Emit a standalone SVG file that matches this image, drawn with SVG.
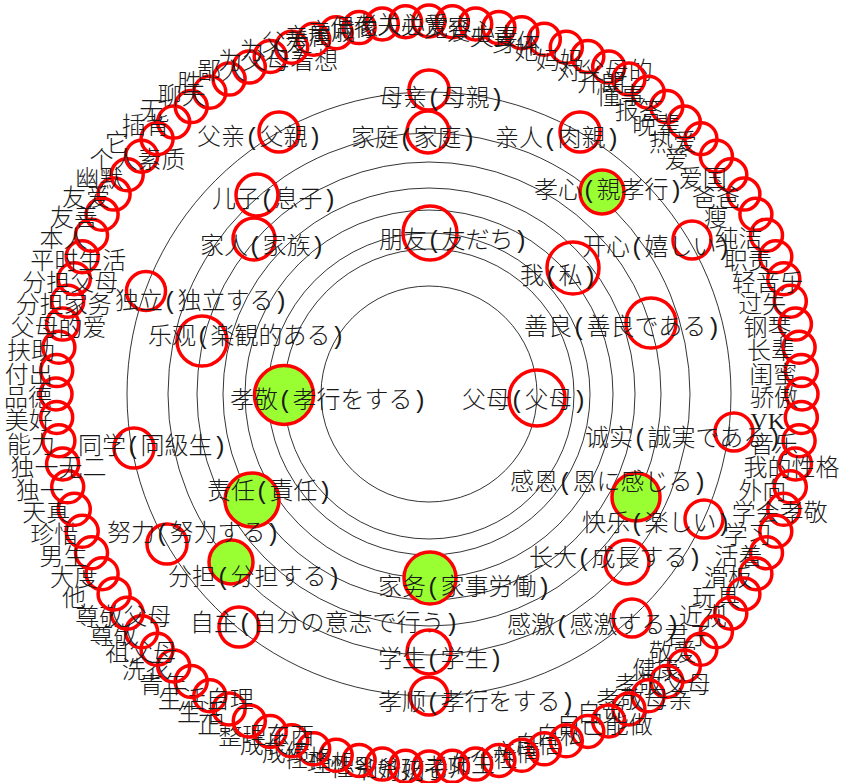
<svg xmlns="http://www.w3.org/2000/svg" width="844" height="783" viewBox="0 0 844 783">
<style>
.ring{fill:none;stroke:#000;stroke-width:0.8}
.n{fill:none;stroke:#f00;stroke-width:3.5}
.g{fill:#99ff33;stroke:#f00;stroke-width:3.5}
.t{font-family:"Liberation Mono","Noto Sans CJK SC","Noto Sans CJK JP",sans-serif;font-size:24px;font-weight:300;fill:#1a1a1a}
.v{font-family:"Liberation Serif","Noto Sans CJK SC",serif;font-size:24px;fill:#1a1a1a}
</style>
<rect width="844" height="783" fill="#fff"/>
<g id="rings">
<circle class="ring" cx="429" cy="394" r="108"/>
<circle class="ring" cx="429" cy="394" r="145"/>
<circle class="ring" cx="429" cy="394" r="161"/>
<circle class="ring" cx="429" cy="394" r="184"/>
<circle class="ring" cx="429" cy="394" r="206"/>
<circle class="ring" cx="429" cy="394" r="232"/>
<circle class="ring" cx="429" cy="394" r="261"/>
<circle class="ring" cx="429" cy="394" r="302"/>
</g>
<g id="connectors"/>
<g id="inner">
<g id="n-xiaojing"><circle class="g" cx="284" cy="395" r="29.5"/><text class="t" x="230" y="408">孝敬(孝行をする)</text></g>
<g id="n-xiaoxin"><circle class="g" cx="602" cy="192" r="22"/><text class="t" x="534" y="198">孝心(親孝行)</text></g>
<g id="n-zeren"><circle class="g" cx="252" cy="500" r="27"/><text class="t" x="207" y="499">责任(責任)</text></g>
<g id="n-ganen"><circle class="g" cx="636" cy="497" r="24"/><text class="t" x="510" y="490">感恩(恩に感じる)</text></g>
<g id="n-fendan"><circle class="g" cx="231" cy="562" r="22"/><text class="t" x="168" y="585">分担(分担する)</text></g>
<g id="n-jiawu"><circle class="g" cx="430" cy="578" r="26"/><text class="t" x="378" y="595">家务(家事労働)</text></g>
<g id="n-muqin"><circle class="n" cx="429" cy="90" r="20"/><text class="t" x="379" y="106">母亲(母親)</text></g>
<g id="n-fuqin"><circle class="n" cx="279" cy="132" r="20"/><text class="t" x="197" y="145">父亲(父親)</text></g>
<g id="n-jiating"><circle class="n" cx="428" cy="132" r="21"/><text class="t" x="351" y="146">家庭(家庭)</text></g>
<g id="n-qinren"><circle class="n" cx="580" cy="132" r="20"/><text class="t" x="495" y="146">亲人(肉親)</text></g>
<g id="n-erzi"><circle class="n" cx="257" cy="195" r="21"/><text class="t" x="212" y="207">儿子(息子)</text></g>
<g id="n-jiaren"><circle class="n" cx="254" cy="239" r="21"/><text class="t" x="200" y="254">家人(家族)</text></g>
<g id="n-pengyou"><circle class="n" cx="430" cy="233" r="27"/><text class="t" x="379" y="248">朋友(友だち)</text></g>
<g id="n-kaixin"><circle class="n" cx="692" cy="240" r="19"/><text class="t" x="582" y="255">开心(嬉しい)</text></g>
<g id="n-wo"><circle class="n" cx="573" cy="268" r="26"/><text class="t" x="520" y="284">我(私)</text></g>
<g id="n-duli"><circle class="n" cx="146" cy="291" r="19.5"/><text class="t" x="115" y="309">独立(独立する)</text></g>
<g id="n-leguan"><circle class="n" cx="202" cy="341" r="25"/><text class="t" x="148" y="344">乐观(楽観的ある)</text></g>
<g id="n-shanliang"><circle class="n" cx="651" cy="323" r="25"/><text class="t" x="524" y="335">善良(善良である)</text></g>
<g id="n-fumu"><circle class="n" cx="537" cy="398" r="28"/><text class="t" x="462" y="408">父母(父母)</text></g>
<g id="n-tongxue"><circle class="n" cx="134" cy="448" r="20"/><text class="t" x="78" y="454">同学(同級生)</text></g>
<g id="n-chengshi"><circle class="n" cx="734" cy="432" r="19"/><text class="t" x="585" y="446">诚实(誠実である)</text></g>
<g id="n-kuaile"><circle class="n" cx="704" cy="519" r="19"/><text class="t" x="582" y="531">快乐(楽しい)</text></g>
<g id="n-nuli"><circle class="n" cx="167" cy="544" r="20"/><text class="t" x="107" y="541">努力(努力する)</text></g>
<g id="n-zhangda"><circle class="n" cx="627" cy="562" r="22"/><text class="t" x="529" y="566">长大(成長する)</text></g>
<g id="n-zizhu"><circle class="n" cx="239" cy="627" r="20"/><text class="t" x="190" y="631">自主(自分の意志で行う)</text></g>
<g id="n-ganji"><circle class="n" cx="632" cy="618" r="19"/><text class="t" x="507" y="633">感激(感激する)</text></g>
<g id="n-xuesheng"><circle class="n" cx="429" cy="652" r="22"/><text class="t" x="378" y="667">学生(学生)</text></g>
<g id="n-xiaoshun"><circle class="n" cx="429" cy="696" r="19"/><text class="t" x="378" y="710">孝顺(孝行をする)</text></g>
</g>
<g id="outer">
<g id="o0"><circle class="n" cx="56.0" cy="394.0" r="16"/><text class="t" x="4.0" y="406.0">品德</text></g>
<g id="o1"><circle class="n" cx="56.7" cy="370.6" r="16"/><text class="t" x="4.7" y="382.6">付出</text></g>
<g id="o2"><circle class="n" cx="58.9" cy="347.3" r="16"/><text class="t" x="6.9" y="359.3">扶助</text></g>
<g id="o3"><circle class="n" cx="62.6" cy="324.1" r="16"/><text class="t" x="10.6" y="336.1">父母的爱</text></g>
<g id="o4"><circle class="n" cx="67.7" cy="301.2" r="16"/><text class="t" x="15.7" y="313.2">分担家务</text></g>
<g id="o5"><circle class="n" cx="74.3" cy="278.7" r="16"/><text class="t" x="22.3" y="290.7">分担父母</text></g>
<g id="o6"><circle class="n" cx="82.2" cy="256.7" r="16"/><text class="t" x="30.2" y="268.7">平时生活</text></g>
<g id="o7"><circle class="n" cx="91.5" cy="235.2" r="16"/><text class="t" x="39.5" y="247.2">本人</text></g>
<g id="o8"><circle class="n" cx="102.1" cy="214.3" r="16"/><text class="t" x="50.1" y="226.3">友善</text></g>
<g id="o9"><circle class="n" cx="114.1" cy="194.1" r="16"/><text class="t" x="62.1" y="206.1">友爱</text></g>
<g id="o10"><circle class="n" cx="127.2" cy="174.8" r="16"/><text class="t" x="75.2" y="186.8">幽默</text></g>
<g id="o11"><circle class="n" cx="141.6" cy="156.2" r="16"/><text class="t" x="89.6" y="168.2">个人素质</text></g>
<g id="o12"><circle class="n" cx="157.1" cy="138.7" r="16"/><text class="t" x="105.1" y="150.7">它</text></g>
<g id="o13"><circle class="n" cx="173.7" cy="122.1" r="16"/><text class="t" x="121.7" y="134.1">插背</text></g>
<g id="o14"><circle class="n" cx="191.2" cy="106.6" r="16"/><text class="t" x="139.2" y="118.6">无</text></g>
<g id="o15"><circle class="n" cx="209.8" cy="92.2" r="16"/><text class="t" x="157.8" y="104.2">聊天</text></g>
<g id="o16"><circle class="n" cx="229.1" cy="79.1" r="16"/><text class="t" x="177.1" y="91.1">胜</text></g>
<g id="o17"><circle class="n" cx="249.3" cy="67.1" r="16"/><text class="t" x="197.3" y="79.1">鄙人</text></g>
<g id="o18"><circle class="n" cx="270.2" cy="56.5" r="16"/><text class="t" x="218.2" y="68.5">为父母着想</text></g>
<g id="o19"><circle class="n" cx="291.7" cy="47.2" r="16"/><text class="t" x="239.7" y="59.2">为人</text></g>
<g id="o20"><circle class="n" cx="313.7" cy="39.3" r="16"/><text class="t" x="261.7" y="51.3">父爱</text></g>
<g id="o21"><circle class="n" cx="336.2" cy="32.7" r="16"/><text class="t" x="284.2" y="44.7">亲属</text></g>
<g id="o22"><circle class="n" cx="359.1" cy="27.6" r="16"/><text class="t" x="307.1" y="39.6">亲戚</text></g>
<g id="o23"><circle class="n" cx="382.3" cy="23.9" r="16"/><text class="t" x="330.3" y="35.9">偶像</text></g>
<g id="o24"><circle class="n" cx="405.6" cy="21.7" r="16"/><text class="t" x="353.6" y="33.7">老人</text></g>
<g id="o25"><circle class="n" cx="429.0" cy="21.0" r="16"/><text class="t" x="377.0" y="33.0">关心</text></g>
<g id="o26"><circle class="n" cx="452.4" cy="21.7" r="16"/><text class="t" x="400.4" y="33.7">关爱</text></g>
<g id="o27"><circle class="n" cx="475.7" cy="23.9" r="16"/><text class="t" x="423.7" y="35.9">宽容</text></g>
<g id="o28"><circle class="n" cx="498.9" cy="27.6" r="16"/><text class="t" x="446.9" y="39.6">爱心</text></g>
<g id="o29"><circle class="n" cx="521.8" cy="32.7" r="16"/><text class="t" x="469.8" y="44.7">夫妻</text></g>
<g id="o30"><circle class="n" cx="544.3" cy="39.3" r="16"/><text class="t" x="492.3" y="51.3">身体</text></g>
<g id="o31"><circle class="n" cx="566.3" cy="47.2" r="16"/><text class="t" x="514.3" y="59.2">她</text></g>
<g id="o32"><circle class="n" cx="587.8" cy="56.5" r="16"/><text class="t" x="535.8" y="68.5">妈妈</text></g>
<g id="o33"><circle class="n" cx="608.7" cy="67.1" r="16"/><text class="t" x="556.7" y="79.1">对父母的</text></g>
<g id="o34"><circle class="n" cx="628.9" cy="79.1" r="16"/><text class="t" x="576.9" y="91.1">开朗</text></g>
<g id="o35"><circle class="n" cx="648.2" cy="92.2" r="16"/><text class="t" x="596.2" y="104.2">懂事</text></g>
<g id="o36"><circle class="n" cx="666.8" cy="106.6" r="16"/><text class="t" x="614.8" y="118.6">报答</text></g>
<g id="o37"><circle class="n" cx="684.3" cy="122.1" r="16"/><text class="t" x="632.3" y="134.1">晚辈</text></g>
<g id="o38"><circle class="n" cx="700.9" cy="138.7" r="16"/><text class="t" x="648.9" y="150.7">热爱</text></g>
<g id="o39"><circle class="n" cx="716.4" cy="156.2" r="16"/><text class="t" x="664.4" y="168.2">爱</text></g>
<g id="o40"><circle class="n" cx="730.8" cy="174.8" r="16"/><text class="t" x="678.8" y="186.8">爱国</text></g>
<g id="o41"><circle class="n" cx="743.9" cy="194.1" r="16"/><text class="t" x="691.9" y="206.1">爸爸</text></g>
<g id="o42"><circle class="n" cx="755.9" cy="214.3" r="16"/><text class="t" x="703.9" y="226.3">瘦</text></g>
<g id="o43"><circle class="n" cx="766.5" cy="235.2" r="16"/><text class="t" x="714.5" y="247.2">纯洁</text></g>
<g id="o44"><circle class="n" cx="775.8" cy="256.7" r="16"/><text class="t" x="723.8" y="268.7">职责</text></g>
<g id="o45"><circle class="n" cx="783.8" cy="278.7" r="16"/><text class="t" x="731.8" y="290.7">轻音乐</text></g>
<g id="o46"><circle class="n" cx="790.3" cy="301.2" r="16"/><text class="t" x="738.3" y="313.2">过失</text></g>
<g id="o47"><circle class="n" cx="795.4" cy="324.1" r="16"/><text class="t" x="743.4" y="336.1">钢琴</text></g>
<g id="o48"><circle class="n" cx="799.1" cy="347.3" r="16"/><text class="t" x="747.1" y="359.3">长辈</text></g>
<g id="o49"><circle class="n" cx="801.3" cy="370.6" r="16"/><text class="t" x="749.3" y="382.6">闺蜜</text></g>
<g id="o50"><circle class="n" cx="802.0" cy="394.0" r="16"/><text class="t" x="750.0" y="406.0">骄傲</text></g>
<g id="o51"><circle class="n" cx="801.3" cy="417.4" r="16"/><text class="v" x="750.3" y="429.4">VK</text></g>
<g id="o52"><circle class="n" cx="799.1" cy="440.7" r="16"/><text class="t" x="750.1" y="452.7">音乐</text></g>
<g id="o53"><circle class="n" cx="795.4" cy="463.9" r="16"/><text class="t" x="743.4" y="475.9">我的性格</text></g>
<g id="o54"><circle class="n" cx="790.3" cy="486.8" r="16"/><text class="t" x="738.3" y="498.8">外向</text></g>
<g id="o55"><circle class="n" cx="783.8" cy="509.3" r="16"/><text class="t" x="731.8" y="521.3">学会孝敬</text></g>
<g id="o56"><circle class="n" cx="775.8" cy="531.3" r="16"/><text class="t" x="723.8" y="543.3">学习</text></g>
<g id="o57"><circle class="n" cx="766.5" cy="552.8" r="16"/><text class="t" x="714.5" y="564.8">活着</text></g>
<g id="o58"><circle class="n" cx="755.9" cy="573.7" r="16"/><text class="t" x="703.9" y="585.7">滑板</text></g>
<g id="o59"><circle class="n" cx="743.9" cy="593.9" r="16"/><text class="t" x="691.9" y="605.9">玩具</text></g>
<g id="o60"><circle class="n" cx="730.8" cy="613.2" r="16"/><text class="t" x="678.8" y="625.2">近视</text></g>
<g id="o61"><circle class="n" cx="716.4" cy="631.8" r="16"/><text class="t" x="664.4" y="643.8">君子</text></g>
<g id="o62"><circle class="n" cx="700.9" cy="649.3" r="16"/><text class="t" x="648.9" y="661.3">敬爱</text></g>
<g id="o63"><circle class="n" cx="684.3" cy="665.9" r="16"/><text class="t" x="632.3" y="677.9">健康</text></g>
<g id="o64"><circle class="n" cx="666.8" cy="681.4" r="16"/><text class="t" x="614.8" y="693.4">孝敬父母</text></g>
<g id="o65"><circle class="n" cx="648.2" cy="695.8" r="16"/><text class="t" x="596.2" y="707.8">孝敬母亲</text></g>
<g id="o66"><circle class="n" cx="628.9" cy="708.9" r="16"/><text class="t" x="576.9" y="720.9">自觉</text></g>
<g id="o67"><circle class="n" cx="608.7" cy="720.9" r="16"/><text class="t" x="556.7" y="732.9">自己能做</text></g>
<g id="o68"><circle class="n" cx="587.8" cy="731.5" r="16"/><text class="t" x="535.8" y="743.5">自私</text></g>
<g id="o69"><circle class="n" cx="566.3" cy="740.8" r="16"/><text class="t" x="514.3" y="752.8">自信</text></g>
<g id="o70"><circle class="n" cx="544.3" cy="748.8" r="16"/><text class="t" x="492.3" y="760.8">亲情</text></g>
<g id="o71"><circle class="n" cx="521.8" cy="755.3" r="16"/><text class="t" x="469.8" y="767.3">个性</text></g>
<g id="o72"><circle class="n" cx="498.9" cy="760.4" r="16"/><text class="t" x="446.9" y="772.4">女生</text></g>
<g id="o73"><circle class="n" cx="475.7" cy="764.1" r="16"/><text class="t" x="423.7" y="776.1">老师</text></g>
<g id="o74"><circle class="n" cx="452.4" cy="766.3" r="16"/><text class="t" x="400.4" y="778.3">孩子</text></g>
<g id="o75"><circle class="n" cx="429.0" cy="767.0" r="16"/><text class="t" x="377.0" y="779.0">奶奶</text></g>
<g id="o76"><circle class="n" cx="405.6" cy="766.3" r="16"/><text class="t" x="353.6" y="778.3">爷爷</text></g>
<g id="o77"><circle class="n" cx="382.3" cy="764.1" r="16"/><text class="t" x="330.3" y="776.1">性别</text></g>
<g id="o78"><circle class="n" cx="359.1" cy="760.4" r="16"/><text class="t" x="307.1" y="772.4">理想</text></g>
<g id="o79"><circle class="n" cx="336.2" cy="755.3" r="16"/><text class="t" x="284.2" y="767.3">性格</text></g>
<g id="o80"><circle class="n" cx="313.7" cy="748.8" r="16"/><text class="t" x="261.7" y="760.8">成绩</text></g>
<g id="o81"><circle class="n" cx="291.7" cy="740.8" r="16"/><text class="t" x="239.7" y="752.8">成长</text></g>
<g id="o82"><circle class="n" cx="270.2" cy="731.5" r="16"/><text class="t" x="218.2" y="743.5">整理东西</text></g>
<g id="o83"><circle class="n" cx="249.3" cy="720.9" r="16"/><text class="t" x="197.3" y="732.9">正</text></g>
<g id="o84"><circle class="n" cx="229.1" cy="708.9" r="16"/><text class="t" x="177.1" y="720.9">生活</text></g>
<g id="o85"><circle class="n" cx="209.8" cy="695.8" r="16"/><text class="t" x="157.8" y="707.8">生活自理</text></g>
<g id="o86"><circle class="n" cx="191.2" cy="681.4" r="16"/><text class="t" x="139.2" y="693.4">青年</text></g>
<g id="o87"><circle class="n" cx="173.7" cy="665.9" r="16"/><text class="t" x="121.7" y="677.9">洗衣</text></g>
<g id="o88"><circle class="n" cx="157.1" cy="649.3" r="16"/><text class="t" x="105.1" y="661.3">祖父母</text></g>
<g id="o89"><circle class="n" cx="141.6" cy="631.8" r="16"/><text class="t" x="89.6" y="643.8">尊敬</text></g>
<g id="o90"><circle class="n" cx="127.2" cy="613.2" r="16"/><text class="t" x="75.2" y="625.2">尊敬父母</text></g>
<g id="o91"><circle class="n" cx="114.1" cy="593.9" r="16"/><text class="t" x="62.1" y="605.9">他</text></g>
<g id="o92"><circle class="n" cx="102.1" cy="573.7" r="16"/><text class="t" x="50.1" y="585.7">大度</text></g>
<g id="o93"><circle class="n" cx="91.5" cy="552.8" r="16"/><text class="t" x="39.5" y="564.8">男生</text></g>
<g id="o94"><circle class="n" cx="82.2" cy="531.3" r="16"/><text class="t" x="30.2" y="543.3">珍惜</text></g>
<g id="o95"><circle class="n" cx="74.3" cy="509.3" r="16"/><text class="t" x="22.3" y="521.3">天真</text></g>
<g id="o96"><circle class="n" cx="67.7" cy="486.8" r="16"/><text class="t" x="15.7" y="498.8">独一</text></g>
<g id="o97"><circle class="n" cx="62.6" cy="463.9" r="16"/><text class="t" x="10.6" y="475.9">独一无二</text></g>
<g id="o98"><circle class="n" cx="58.9" cy="440.7" r="16"/><text class="t" x="6.9" y="452.7">能力</text></g>
<g id="o99"><circle class="n" cx="56.7" cy="417.4" r="16"/><text class="t" x="4.7" y="429.4">美好</text></g>
</g>
</svg>
